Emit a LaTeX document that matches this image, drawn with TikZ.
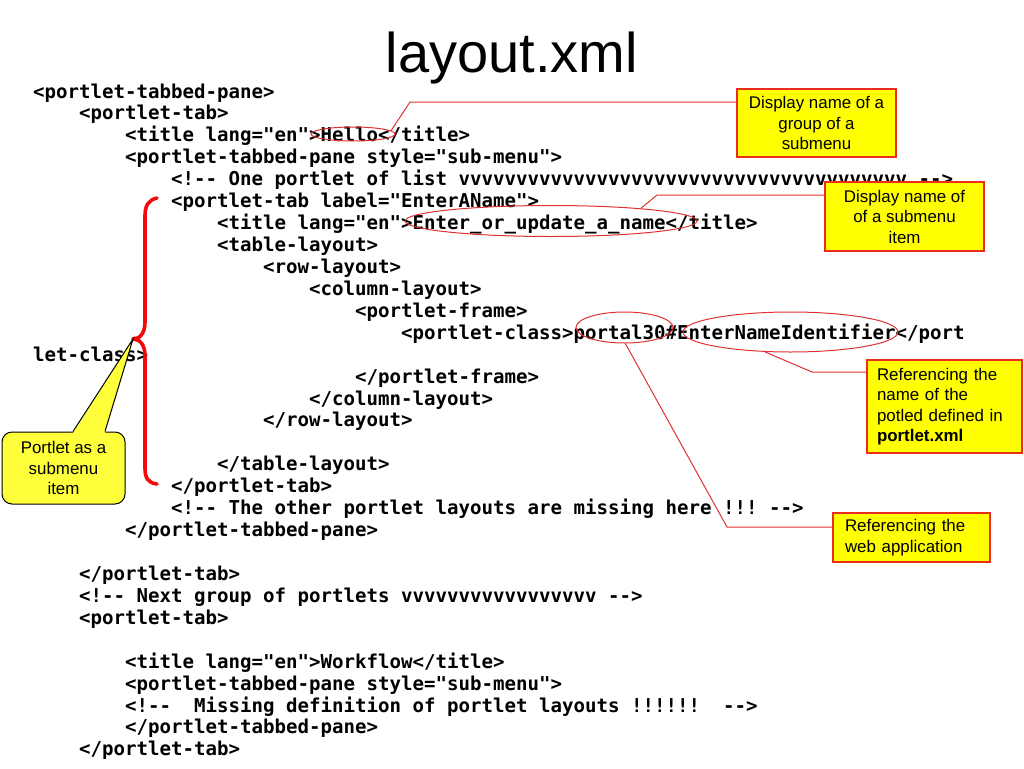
\documentclass[tikz,border=0pt]{standalone}
\usepackage{fontspec}
\setmainfont{Liberation Sans}
\newfontfamily\codefont{DejaVu Sans Mono}
\usetikzlibrary{shapes.geometric}
\definecolor{noteRed}{RGB}{235,45,30}
\definecolor{lineRed}{RGB}{225,50,50}
\definecolor{braceRed}{RGB}{240,10,10}
\definecolor{noteYellow}{RGB}{255,255,0}
\definecolor{calloutYellow}{RGB}{255,255,60}
\newcommand\codeline[4]{\node[codetext] (#1) at ({33+46*#2},{98+21.93*(#3-1)}) {#4};}
\begin{document}
\begin{tikzpicture}[x=1pt,y=-1pt,
  codetext/.style={anchor=base west, inner sep=0pt,
    font=\codefont\bfseries\fontsize{19.1}{22}\selectfont\frenchspacing},
  hl/.style={ellipse, draw=lineRed, line width=1pt, inner sep=0pt},
  conn/.style={draw=lineRed, line width=1pt},
  note/.style={draw=noteRed, fill=noteYellow, line width=1.3pt, inner sep=0pt,
    font=\fontsize{16.9}{20.5}\selectfont},
  callbox/.style={draw=black, fill=calloutYellow, line width=1pt, rounded corners=10pt,
    inner sep=0pt, align=center, minimum width=123pt, minimum height=72pt,
    font=\fontsize{16.9}{20.5}\selectfont},
  bracestyle/.style={draw=braceRed, line width=3.6pt, line cap=round, line join=round}]
\fill[white] (0,0) rectangle (1024,768);
\useasboundingbox (0,0) rectangle (1024,768);

% title
\node[anchor=base, inner sep=0pt, font=\fontsize{56}{60}\selectfont] (title) at (512,72) {layout.xml};

% code
\codeline{l1}{0}{1}{<portlet-tabbed-pane>}
\codeline{l2}{1}{2}{<portlet-tab>}
\codeline{l3}{2}{3}{<title lang="en">Hello</title>}
\codeline{l4}{2}{4}{<portlet-tabbed-pane style="sub-menu">}
\codeline{l5}{3}{5}{<!-- One portlet of list vvvvvvvvvvvvvvvvvvvvvvvvvvvvvvvvvvvvvvv -->}
\codeline{l6}{3}{6}{<portlet-tab label="EnterAName">}
\codeline{l7}{4}{7}{<title lang="en">Enter\_or\_update\_a\_name</title>}
\codeline{l8}{4}{8}{<table-layout>}
\codeline{l9}{5}{9}{<row-layout>}
\codeline{l10}{6}{10}{<column-layout>}
\codeline{l11}{7}{11}{<portlet-frame>}
\codeline{l12}{8}{12}{<portlet-class>portal30\#EnterNameIdentifier</port}
\codeline{l13}{0}{13}{let-class>}
\codeline{l14}{7}{14}{</portlet-frame>}
\codeline{l15}{6}{15}{</column-layout>}
\codeline{l16}{5}{16}{</row-layout>}
\codeline{l18}{4}{18}{</table-layout>}
\codeline{l19}{3}{19}{</portlet-tab>}
\codeline{l20}{3}{20}{<!-- The other portlet layouts are missing here !!! -->}
\codeline{l21}{2}{21}{</portlet-tabbed-pane>}
\codeline{l23}{1}{23}{</portlet-tab>}
\codeline{l24}{1}{24}{<!-- Next group of portlets vvvvvvvvvvvvvvvvv -->}
\codeline{l25}{1}{25}{<portlet-tab>}
\codeline{l27}{2}{27}{<title lang="en">Workflow</title>}
\codeline{l28}{2}{28}{<portlet-tabbed-pane style="sub-menu">}
\codeline{l29}{2}{29}{<!--\ \ Missing definition of portlet layouts !!!!!!\ \ -->}
\codeline{l30}{2}{30}{</portlet-tabbed-pane>}
\codeline{l31}{1}{31}{</portlet-tab>}

% highlight ellipses
\node[hl, minimum width=84pt, minimum height=14pt] (hello) at (353,134) {};
\node[hl, minimum width=292pt, minimum height=31pt] (enter) at (551,221) {};
\node[hl, minimum width=97pt, minimum height=31pt] (p30) at (624.5,327.5) {};
\node[hl, minimum width=215pt, minimum height=40pt] (eni) at (790.5,332) {};

% notes
\node[note, align=center, minimum width=159pt, minimum height=68pt] (box1) at (816.5,123)
  {Display name of a\\group of a\\submenu};
\node[note, align=center, minimum width=159pt, minimum height=69pt] (box2) at (904.5,216.5)
  {Display name of\\of a submenu\\item};
\node[note, align=left, text width=135pt, inner xsep=10pt, minimum height=93pt] (box3) at (944.5,406.5)
  {Referencing the\\name of the\\potled defined in\\\textbf{portlet.xml}};
\node[note, align=left, text width=133pt, inner xsep=12pt, minimum height=49pt] (box4) at (911.5,537.5)
  {Referencing the\\web application};

% connectors
\coordinate (k1) at (410,102);
\coordinate (k2) at (657,195);
\coordinate (k3) at (812,372);
\coordinate (k4) at (727,527);
\draw[conn] (hello.5) -- (k1) -- (k1 -| box1.west);
\draw[conn] (enter.8) -- (k2) -- (k2 -| box2.west);
\draw[conn] (eni.-142) -- (k3) -- (k3 -| box3.west);
\draw[conn] (p30.-87) -- (k4) -- (k4 -| box4.west);

% brace
\coordinate (bracetip) at (133,339);
\draw[bracestyle] (157,198) .. controls (148,200) and (145,206) .. (145,216)
  -- (145,322) .. controls (145,333) and (140,339) .. (bracetip)
  .. controls (140,339) and (145,345) .. (145,356)
  -- (145,468) .. controls (145,478) and (148,483) .. (157,484);

% callout
\node[callbox] (portletnote) at (63.5,468) {Portlet as a\\submenu\\item};
\fill[calloutYellow] ([xshift=9.5pt,yshift=-1.6pt]portletnote.north) -- (bracetip)
  -- ([xshift=41.5pt,yshift=-1.6pt]portletnote.north) -- cycle;
\draw[black, line width=1pt, line join=miter] ([xshift=9.5pt]portletnote.north) -- (bracetip)
  -- ([xshift=41.5pt]portletnote.north);
\end{tikzpicture}
\end{document}
